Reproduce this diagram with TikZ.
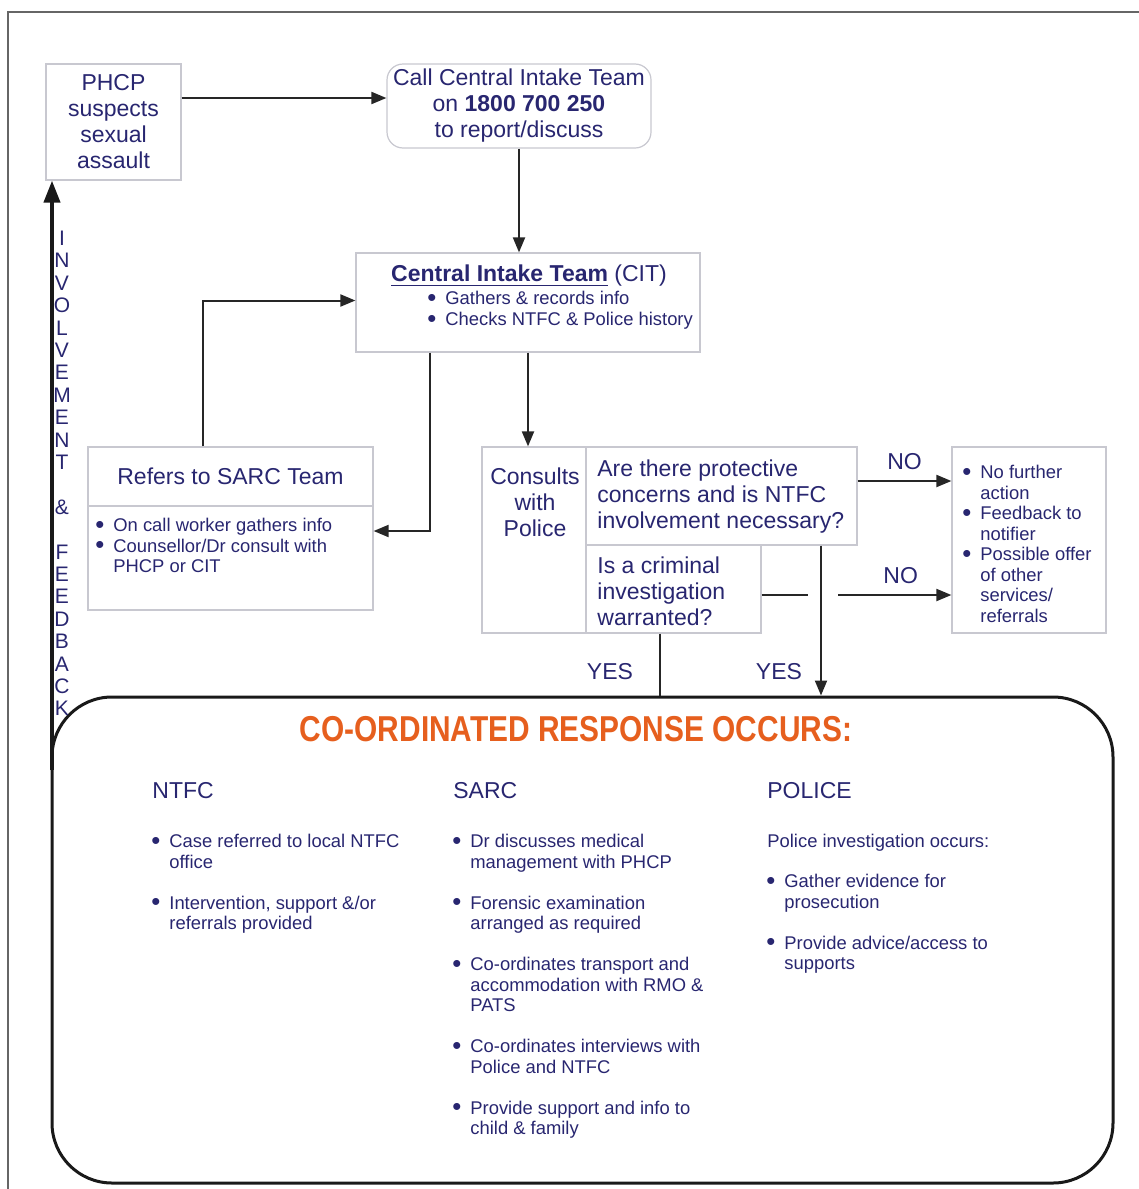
\documentclass[tikz,border=0pt]{standalone}
\usepackage{fontspec}
\setmainfont{Liberation Sans}
\usepackage{graphicx}
\usetikzlibrary{arrows.meta,positioning}

\definecolor{ink}{RGB}{40,38,112}
\definecolor{flame}{RGB}{230,95,30}
\definecolor{edge}{RGB}{200,200,208}

\tikzset{
  box/.style={draw=edge, line width=0.6pt, fill=white, inner sep=0pt, text=ink, align=center, font=\fontsize{11.5}{13}\selectfont},
  txt/.style={text=ink, inner sep=0pt, align=left, font=\fontsize{11.5}{13}\selectfont},
  small/.style={text=ink, inner sep=0pt, align=left, font=\fontsize{9.2}{10.25}\selectfont},
  link/.style={draw=black!85, line width=1pt},
  arrow/.style={link, -{Triangle[length=7.5pt,width=6pt]}},
}
\newcommand{\bul}{\llap{\smash{\raisebox{-0.15ex}{\scalebox{1.4}{\textbullet}}}\hspace{4.5pt}}}

\begin{document}
\begin{tikzpicture}[x=0.5pt, y=-0.5pt]
	\useasboundingbox (0,0) rectangle (1139,1189);
	\draw[black!60, line width=0.6pt] (8,1189) -- (8,12) -- (1139,12);

	\node[box, minimum width=67.5pt, minimum height=58pt] (phcp) at (113.5,122) {PHCP\\suspects\\sexual\\assault};
	\node[box, rounded corners=8pt, minimum width=132pt, minimum height=42pt] (call) at (519,106) {Call Central Intake Team\\on \textbf{1800 700 250}\\to report/discuss};

	\node[box, minimum width=172pt, minimum height=49.5pt] (cit) at (528,302.5) {};
	\node[txt] (cittitle) at (529,276) {\textbf{\underline{Central Intake Team}} (CIT)};
	\node[small, anchor=west, font=\fontsize{9.2}{10.5}\selectfont] (citlist) at (445,310.5) {\bul Gathers \& records info\\\bul Checks NTFC \& Police history};

	\node[box, minimum width=142.5pt, minimum height=29.5pt] (sarchead) at (230.5,476.5) {Refers to SARC Team};
	\node[box, minimum width=142.5pt, minimum height=52pt] (sarcbody) at (230.5,558) {};
	\node[small, anchor=north west] (sarclist) at (113,518) {\bul On call worker gathers info\\\bul Counsellor/Dr consult with\\PHCP or CIT};

	\node[box, minimum width=52pt, minimum height=93pt] (consult) at (534,540) {};
	\node[txt, align=center, anchor=north] (consulttxt) at (535,467) {Consults\\with\\Police};
	\node[box, minimum width=135.5pt, minimum height=49pt] (q1) at (721.5,496) {};
	\node[txt, anchor=north west] (q1txt) at (597,459) {Are there protective\\concerns and is NTFC\\involvement necessary?};
	\node[box, minimum width=87.5pt, minimum height=44pt] (q2) at (673.5,589) {};
	\node[txt, anchor=north west] (q2txt) at (597,556) {Is a criminal\\investigation\\warranted?};

	\node[box, minimum width=77pt, minimum height=93pt] (outcome) at (1029,540) {};
	\node[small, anchor=north west] (outlist) at (980,465) {\bul No further\\action\\\bul Feedback to\\notifier\\\bul Possible offer\\of other\\services/\\referrals};

	% arrows between the boxes
	\coordinate (callin) at ([yshift=4pt]call.west);
	\draw[arrow] (callin -| phcp.east) -- (callin);
	\draw[arrow] (call.south) -- (call.south |- cit.north);
	\coordinate (sarcup) at ([xshift=-13.75pt]sarchead.north);
	\draw[arrow] (sarcup) |- ([yshift=1pt]cit.west);
	\coordinate (citdown) at ([xshift=-49pt]cit.south);
	\draw[arrow] (citdown) |- ([yshift=13.5pt]sarcbody.east);
	\draw[arrow] (cit.south) -- (cit.south |- consult.north);

	\coordinate (q1out) at ([yshift=7.5pt]q1.east);
	\draw[arrow] (q1out) -- node[txt, above=5pt] {NO} (q1out -| outcome.west);
	\coordinate (gapl) at (808,595);
	\coordinate (gapr) at (838,595);
	\draw[link] (gapl -| q2.east) -- (gapl);
	\draw[arrow] (gapr) -- node[txt, above=5pt, xshift=3pt] {NO} (gapr -| outcome.west);

	\node[draw=black!90, line width=1.5pt, rounded corners=30pt, minimum width=530.5pt, minimum height=243pt, inner sep=0pt] (response) at (582.5,940) {};

	\coordinate (q1yes) at ([xshift=49.75pt]q1.south);
	\draw[arrow] (q1yes) -- node[txt, pos=0.84, left=9pt] {YES} (q1yes |- response.north);
	\coordinate (q2yes) at ([xshift=-6.75pt]q2.south);
	\draw[link] (q2yes) -- node[txt, pos=0.62, left=13pt] {YES} (q2yes |- response.north);

	\coordinate (fbfoot) at (52,770);
	\draw[line width=2pt, black!90, -{Triangle[length=11pt,width=8pt]}] (fbfoot) -- (fbfoot |- phcp.south);
	\node[text=ink, inner sep=0pt, align=center, font=\fontsize{10.5}{11.2}\selectfont] (fbtext) at (62,473.5) {I\\N\\V\\O\\L\\V\\E\\M\\E\\N\\T\\~\\\&\\~\\F\\E\\E\\D\\B\\A\\C\\K};

	% coordinated response
	\node[text=flame, inner sep=0pt, font=\bfseries\fontsize{18}{20}\selectfont] (resptitle) at (576,729) {\scalebox{0.83}[1]{CO-ORDINATED RESPONSE OCCURS:}};
	\node[txt, anchor=west] (ntfchead) at (152,791) {NTFC};
	\node[txt, anchor=west] (sarchead2) at (453,791) {SARC};
	\node[txt, anchor=west] (policehead) at (767,791) {POLICE};

	\node[small, anchor=north west] (ntfclist) at (169,834) {\bul Case referred to local NTFC\\office\\[10.25pt]\bul Intervention, support \&/or\\referrals provided};
	\node[small, anchor=north west] (sarclist2) at (470,834) {\bul Dr discusses medical\\management with PHCP\\[10.25pt]\bul Forensic examination\\arranged as required\\[10.25pt]\bul Co-ordinates transport and\\accommodation with RMO \&\\PATS\\[10.25pt]\bul Co-ordinates interviews with\\Police and NTFC\\[10.25pt]\bul Provide support and info to\\child \& family};
	\node[small, anchor=north west] (policeintro) at (767,834) {Police investigation occurs:};
	\node[small, anchor=north west] (policelist) at (784,874) {\bul Gather evidence for\\prosecution\\[10.25pt]\bul Provide advice/access to\\supports};
\end{tikzpicture}
\end{document}
